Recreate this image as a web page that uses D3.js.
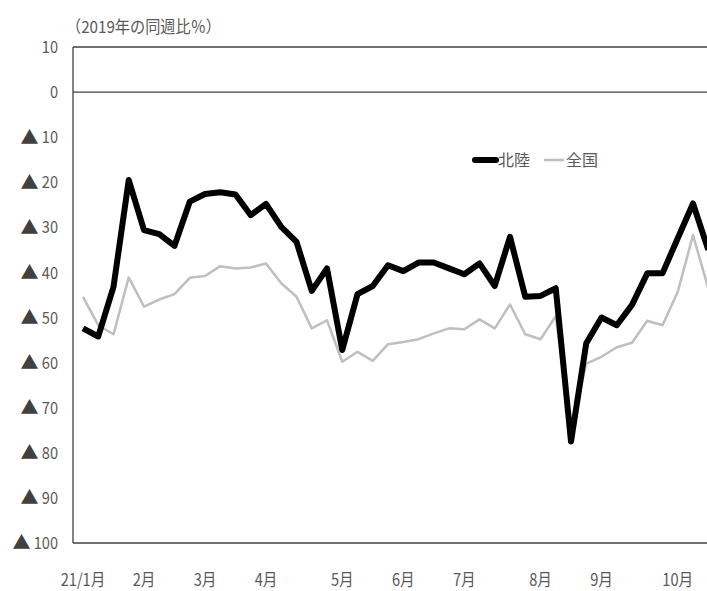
<!DOCTYPE html>
<html><head><meta charset="utf-8">
<script src="https://cdn.jsdelivr.net/npm/d3@7"></script>
<style>
body{margin:0;background:#fff;}
text{font-family:"Noto Sans CJK JP","Noto Sans",sans-serif;fill:#595959;}
</style></head><body>
<svg id="c" width="707" height="591"></svg>
<script>
const weekLabels = ["21/1月","","","","2月","","","","3月","","","","4月","","","","","5月","","","","6月","","","","7月","","","","","8月","","","","9月","","","","","10月","",""];
const hokuriku = [-52.4,-54.2,-43.2,-19.5,-30.6,-31.5,-34.1,-24.3,-22.6,-22.2,-22.7,-27.3,-24.8,-29.9,-33.2,-44.1,-39.1,-57.2,-44.8,-43.0,-38.4,-39.7,-37.8,-37.8,-39.1,-40.4,-38.0,-43.0,-32.1,-45.4,-45.2,-43.5,-77.5,-55.7,-50.0,-51.7,-47.2,-40.2,-40.2,-32.4,-24.7,-35.0];
const zenkoku = [-45.4,-51.7,-53.7,-41.1,-47.6,-46.0,-44.8,-41.2,-40.8,-38.6,-39.1,-38.9,-38.0,-42.4,-45.4,-52.4,-50.6,-59.8,-57.6,-59.6,-55.9,-55.4,-54.8,-53.5,-52.4,-52.6,-50.4,-52.4,-47.1,-53.7,-54.8,-49.7,-75.3,-60.2,-58.7,-56.6,-55.6,-50.7,-51.7,-44.3,-31.7,-43.5];
const yTicks = [10,0,-10,-20,-30,-40,-50,-60,-70,-80,-90,-100];
const seriesNames = ["北陸","全国"];
const unitLabel = "（2019年の同週比％）";

(function(){
const svg = d3.select("#c");
const pL = 73, pT = 47, pB = 543, pR = 740;
const x = d3.scalePoint().domain(d3.range(weekLabels.length)).range([83, 83 + 15.25*(weekLabels.length-1)]);
const y = d3.scaleLinear().domain([-100,10]).range([pB, pT]);
const SX = 0.86;

// frame
[[pL,pR,pT,pT],[pL,pR,pB,pB],[pL,pR,y(0),y(0)],[pL,pL,pT,pB]].forEach(([x1,x2,y1,y2])=>{
  svg.append("line").attr("x1",x1).attr("x2",x2).attr("y1",y1).attr("y2",y2).attr("stroke","#404040").attr("stroke-width",1.3);
});

// y ticks
const yl = svg.append("g");
yTicks.forEach(v=>{
  yl.append("text").attr("transform",`translate(58,${y(v)}) scale(${SX},1)`).attr("dy","0.36em")
    .attr("text-anchor","end").attr("font-size",17).text(String(Math.abs(v)));
  if(v<0){
    const digits = String(-v).length;
    yl.append("text").attr("x",58 - digits*8.2 - 3).attr("y",y(v)).attr("dy","0.36em")
      .attr("text-anchor","end").attr("font-size",18).style("fill","#404040").text("▲");
  }
});

// x labels
svg.append("g").selectAll("text").data(weekLabels.map((l,i)=>({l,i})).filter(d=>d.l)).join("text")
  .attr("transform",d=>`translate(${x(d.i)},580) scale(${SX},1)`).attr("dy","0.36em").attr("text-anchor","middle").attr("font-size",17).text(d=>d.l);

// unit label
svg.append("text").attr("transform",`translate(66,27) scale(0.92,1)`).attr("dy","0.36em").attr("font-size",16.5).text(unitLabel);

const line = d3.line().x((d,i)=>x(i)).y(d=>y(d)).curve(d3.curveLinear);
svg.append("path").datum(zenkoku).attr("d",line).attr("fill","none").attr("stroke","#bfbfbf").attr("stroke-width",2.5).attr("stroke-linejoin","round");
svg.append("path").datum(hokuriku).attr("d",line).attr("fill","none").attr("stroke","#000").attr("stroke-width",6).attr("stroke-linejoin","round");

// legend
const lg = svg.append("g");
lg.append("line").attr("x1",475).attr("x2",496).attr("y1",160).attr("y2",160).attr("stroke","#000").attr("stroke-width",6).attr("stroke-linecap","round");
lg.append("text").attr("x",498).attr("y",160).attr("dy","0.36em").attr("font-size",16).text(seriesNames[0]);
lg.append("line").attr("x1",544).attr("x2",564).attr("y1",160).attr("y2",160).attr("stroke","#bfbfbf").attr("stroke-width",2.5);
lg.append("text").attr("x",566).attr("y",160).attr("dy","0.36em").attr("font-size",16).text(seriesNames[1]);
})();
</script></body></html>
